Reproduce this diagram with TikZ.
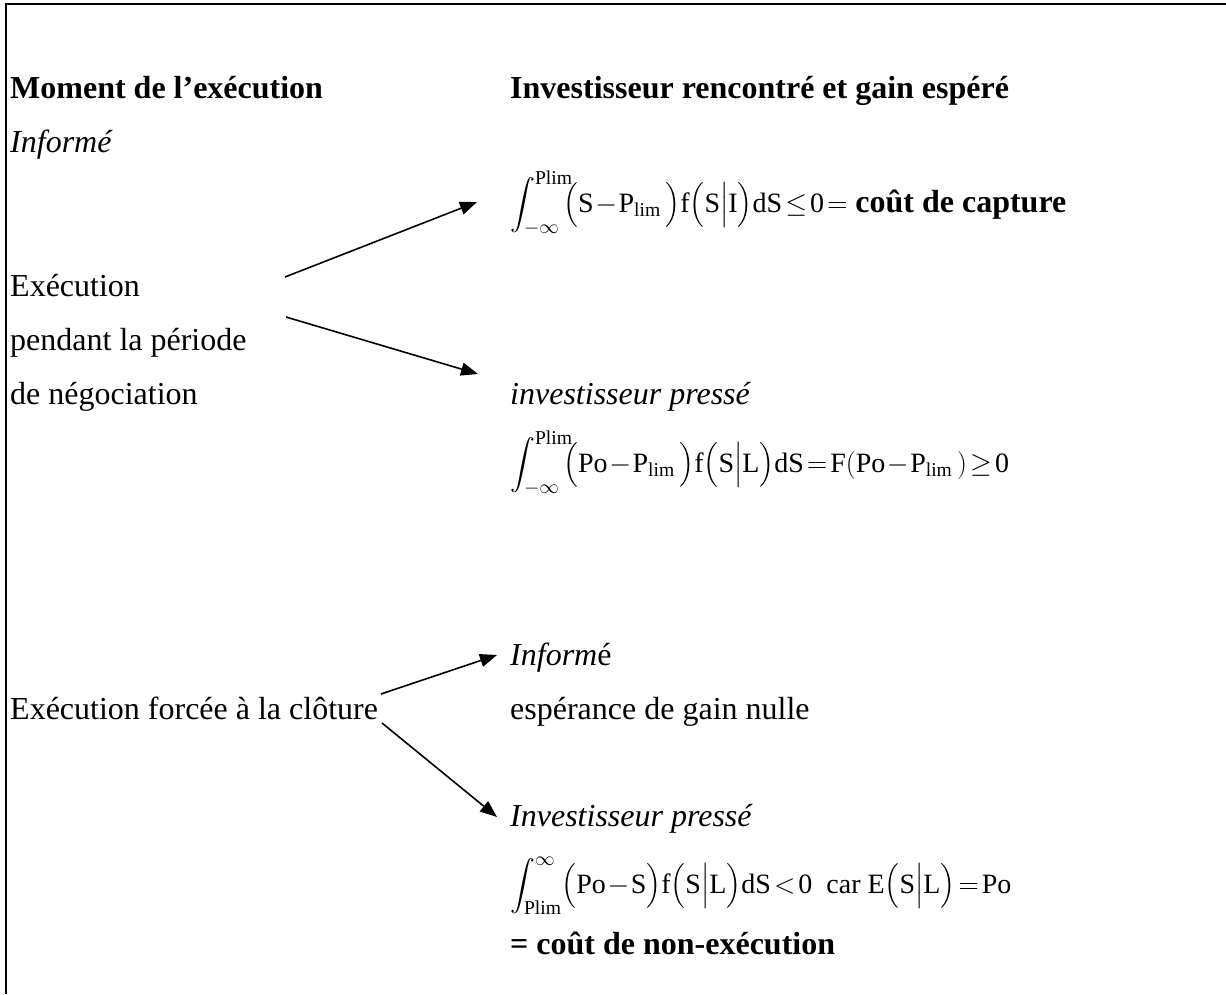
\RequirePackage{fix-cm}
\documentclass[tikz,border=0pt]{standalone}
\usepackage{amsmath}
\usepackage{fontspec}
\setmainfont{Liberation Serif}
\usetikzlibrary{arrows.meta}
\newcommand{\fmsize}{\fontsize{28}{33}\selectfont\medmuskip=1mu\thickmuskip=2mu}
\begin{document}
\begin{tikzpicture}[x=1pt,y=-1pt,
  txt/.style={anchor=base west,inner sep=0pt,font=\fontsize{32}{38}\selectfont},
  conn/.style={line width=1.6pt,-{Triangle[length=17pt,width=13pt]}},
  frame/.style={line width=2.2pt}]
\useasboundingbox (0,0) rectangle (1226,994);
\draw[frame] (6,994) -- (6,4) -- (1226,4);
% left column
\node[txt] (h1) at (10,98) {\textbf{Moment de l’exécution}};
\node[txt] (inf1) at (10,152) {\textit{Informé}};
\node[txt] (e1) at (10,296) {Exécution};
\node[txt] (e2) at (10,350) {pendant la période};
\node[txt] (e3) at (10,404) {de négociation};
\node[txt] (e4) at (10,719) {Exécution forcée à la clôture};
% right column
\node[txt] (h2) at (510,98) {\textbf{Investisseur rencontré et gain espéré}};
\node[txt] (f1) at (510,212) {{\fmsize$\displaystyle\int_{-\infty}^{\mathrm{Plim}}\!\!\bigl(\mathrm{S}-\mathrm{P}_{\mathrm{lim}}\,\bigr)\mathrm{f}\bigl(\mathrm{S}\big|\mathrm{I}\bigr)\mathrm{dS}\le \mathrm{0} =$} \textbf{coût de capture}};
\node[txt] (ip1) at (510,404) {\textit{investisseur pressé}};
\node[txt] (f2) at (510,472) {{\fmsize$\displaystyle\int_{-\infty}^{\mathrm{Plim}}\!\!\bigl(\mathrm{Po}-\mathrm{P}_{\mathrm{lim}}\,\bigr)\mathrm{f}\bigl(\mathrm{S}\big|\mathrm{L}\bigr)\mathrm{dS}=\mathrm{F(Po}-\mathrm{P}_{\mathrm{lim}}\,\mathrm{)}\ge \mathrm{0}$}};
\node[txt] (inf2) at (510,665) {\textit{Inform}é};
\node[txt] (esp) at (510,719) {espérance de gain nulle};
\node[txt] (ip2) at (510,826) {\textit{Investisseur pressé}};
\node[txt] (f3) at (510,893) {{\fmsize$\displaystyle\int_{\mathrm{Plim}}^{\infty}\bigl(\mathrm{Po}-\mathrm{S}\bigr)\mathrm{f}\bigl(\mathrm{S}\big|\mathrm{L}\bigr)\mathrm{dS}<\mathrm{0}$\ \ car $\mathrm{E}\bigl(\mathrm{S}\big|\mathrm{L}\bigr)=\mathrm{Po}$}};
\node[txt] (nc) at (510,954) {\textbf{= coût de non-exécution}};
% connectors
\coordinate (a1s) at (285,277);
\coordinate (a2s) at (286,317);
\coordinate (a3s) at (381,694);
\coordinate (a4s) at (382,723);
\coordinate (a1e) at (477,202);
\coordinate (a2e) at (478,374);
\coordinate (a3e) at (497,655);
\coordinate (a4e) at (497,817);
\draw[conn] (a1s) -- (a1e);
\draw[conn] (a2s) -- (a2e);
\draw[conn] (a3s) -- (a3e);
\draw[conn] (a4s) -- (a4e);
\end{tikzpicture}
\end{document}
